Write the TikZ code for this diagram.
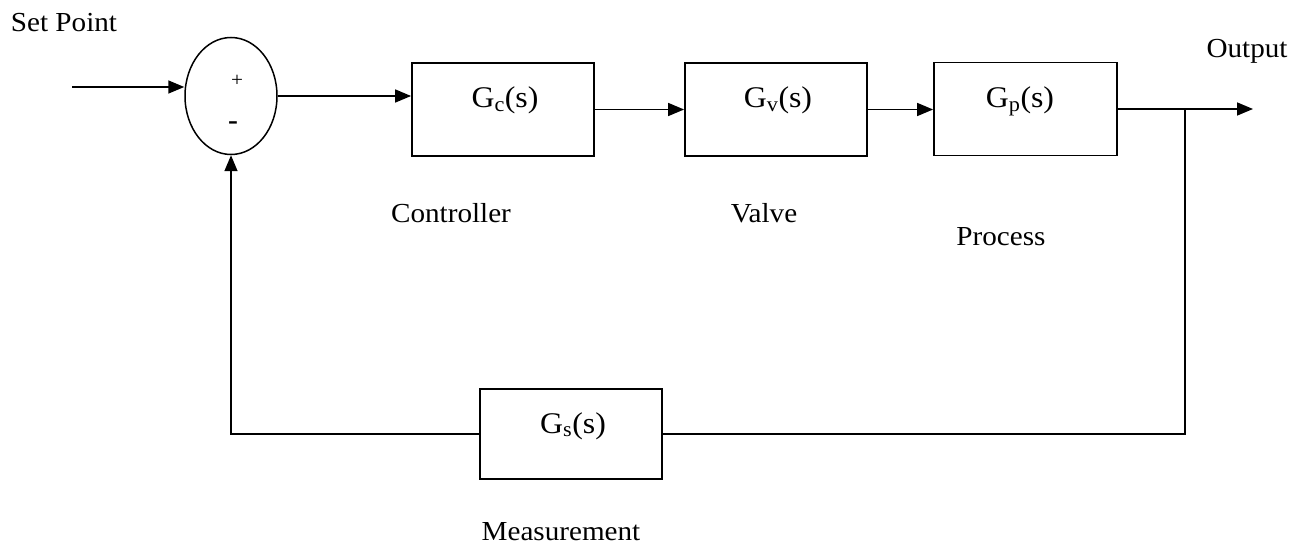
\documentclass[tikz,border=0pt]{standalone}
\usepackage{fontspec}
\setmainfont{Liberation Serif}[FakeStretch=1.06]
\usetikzlibrary{arrows.meta,shapes.geometric,calc}

\begin{document}
\begin{tikzpicture}[x=1pt,y=-1pt,
  blk/.style={draw, line width=1.8pt, minimum width=182pt, minimum height=93pt, inner sep=0pt},
  wire/.style={line width=1.6pt},
  arr/.style={wire, -{Triangle[length=16pt,width=13pt]}},
  txt/.style={font=\fontsize{27.5}{30}\selectfont, inner sep=0pt, anchor=base},
  tf/.style={font=\fontsize{30}{32}\selectfont, inner sep=0pt, anchor=base}]
\useasboundingbox (0,0) rectangle (1305,548);

% summing junction
\node[draw, ellipse, line width=1.5pt, minimum width=92pt, minimum height=117pt, inner sep=0pt] (sum) at (231,96) {};
\node[font=\fontsize{20}{22}\selectfont, inner sep=0pt] (plus) at (237,81) {+};
\node[font=\fontsize{28}{30}\selectfont\bfseries, inner sep=0pt] (minus) at (233,126) {-};

% forward path and feedback blocks
\node[blk] (gc) at (503,109.5) {};
\node[blk] (gv) at (776,109.5) {};
\node[blk, minimum width=183pt] (gp) at (1025.5,109) {};
\node[blk, minimum height=90pt] (gs) at (571,434) {};

\node[tf] (gct) at (505,108) {G\textsubscript{c}(s)};
\node[tf] (gvt) at (778,108) {G\textsubscript{v}(s)};
\node[tf] (gpt) at (1020,108) {G\textsubscript{p}(s)};
\node[tf] (gst) at (573,433) {G\textsubscript{s}(s)};

% captions
\node[txt] (sp) at (64,32) {Set Point};
\node[txt] (ctl) at (451,222) {Controller};
\node[txt] (vlv) at (764,222) {Valve};
\node[txt] (prc) at (1001,245) {Process};
\node[txt] (msr) at (561,540) {Measurement};
\node[txt] (outl) at (1247,58) {Output};

% signals
\coordinate (inp) at (72,87);
\coordinate (out) at (1253,109);
\coordinate (br) at (1185,109);

\draw[arr] (inp) -- (inp -| sum.west);
\draw[arr] (sum.east) -- (sum.east -| gc.west);
\draw[arr] (gc.east) -- (gv.west);
\draw[arr] (gv.east) -- (gv.east -| gp.west);
\draw[arr] (gp.east) -- (out);
\draw[wire] (br) |- (gs.east);
\draw[arr] (gs.west) -| (sum.south);
\end{tikzpicture}
\end{document}
